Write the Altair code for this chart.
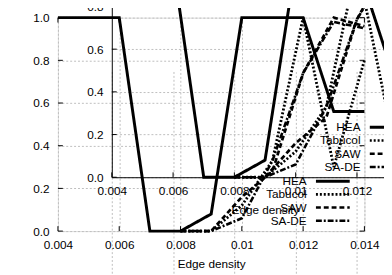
import altair as alt
import pandas as pd

# ---- data ----
density = [0.004, 0.005, 0.006, 0.007, 0.008, 0.009, 0.010, 0.011, 0.012, 0.013, 0.014]
hea     = [1.0, 1.0, 1.0, 0.0, 0.0, 0.08, 1.0, 1.0, 1.0, 0.56, 0.56]
tabucol = [None, None, None, None, 0.0, 0.0, 0.12, 0.33, 1.0, 0.30, 0.80]
saw     = [None, None, None, None, 0.0, 0.0, 0.16, 0.28, 0.74, 1.0, 0.96]
sade    = [None, None, None, None, 0.0, 0.0, 0.06, 0.33, 0.74, 0.98, 0.95]

series_names = ["HEA", "Tabucol", "SAW", "SA-DE"]
x_ticks = [0.004, 0.006, 0.008, 0.010, 0.012, 0.014]
y_ticks = [0.0, 0.2, 0.4, 0.6, 0.8, 1.0]
x_title = "Edge density"

rows = []
for name, vals in zip(series_names, [hea, tabucol, saw, sade]):
    for d, v in zip(density, vals):
        if v is not None:
            rows.append({"density": d, "rate": v, "series": name})
df = pd.DataFrame(rows)
xt_df = pd.DataFrame({"v": x_ticks})
yt_df = pd.DataFrame({"v": y_ticks})

# ---- layout / style ----
W, H = 313, 218
DX, DY = 55, 55          # inset copy shift (pixels)
TK = 5                   # inward tick length
FONT = "Liberation Sans"
dashes = [[1, 0], [2, 2], [5, 3], [6, 2, 2, 2]]
widths = [3.0, 2.6, 2.6, 2.6]
dash_scale = alt.Scale(domain=series_names, range=dashes)
width_scale = alt.Scale(domain=series_names, range=widths)
GRID = "#bdbdbd"
XDOM = [0.004, 0.014]
YDOM = [0, 1]


def x_axis(offset, domain):
    return alt.Axis(values=x_ticks, format="~g", title=x_title, orient="bottom",
                    grid=True, gridColor=GRID, gridDash=[2, 2], gridWidth=1,
                    ticks=False, domain=domain, domainColor="black", domainWidth=1,
                    labelPadding=9, labelFontSize=12, labelFont=FONT, labelColor="black",
                    titleFontSize=12, titleFont=FONT, titleFontWeight="normal",
                    titleColor="black", titleY=33, titleBaseline="middle",
                    offset=offset, labelFlush=False, labelOverlap=False)


def y_axis(offset, domain):
    return alt.Axis(values=y_ticks, format=".1f", title=None, orient="left",
                    grid=True, gridColor=GRID, gridDash=[2, 2], gridWidth=1,
                    ticks=False, domain=domain, domainColor="black", domainWidth=1,
                    labelPadding=9, labelFontSize=12, labelFont=FONT, labelColor="black",
                    offset=offset, labelFlush=False, labelOverlap=False)


def xs(rng=None):
    if rng is None:
        return alt.Scale(domain=XDOM, nice=False, zero=False)
    return alt.Scale(domain=XDOM, nice=False, zero=False, range=rng)


def ys(rng=None):
    if rng is None:
        return alt.Scale(domain=YDOM, nice=False)
    return alt.Scale(domain=YDOM, nice=False, range=rng)


def lines(xscale, yscale, xaxis, yaxis):
    return alt.Chart(df).mark_line(color="black").encode(
        x=alt.X("density:Q", scale=xscale, axis=xaxis),
        y=alt.Y("rate:Q", scale=yscale, axis=yaxis),
        strokeDash=alt.StrokeDash("series:N", scale=dash_scale, legend=None),
        strokeWidth=alt.StrokeWidth("series:N", scale=width_scale, legend=None),
        detail="series:N",
    )


def xticks(scale, y0, y1):
    return alt.Chart(xt_df).mark_rule(color="black", strokeWidth=1).encode(
        x=alt.X("v:Q", scale=scale, axis=None), y=alt.value(y0), y2=alt.value(y1))


def yticks(scale, x0, x1):
    return alt.Chart(yt_df).mark_rule(color="black", strokeWidth=1).encode(
        y=alt.Y("v:Q", scale=scale, axis=None), x=alt.value(x0), x2=alt.value(x1))


main = lines(xs(), ys(), x_axis(0, False), y_axis(0, False))
inset = lines(xs([DX, W + DX]), ys([H - DY, -DY]), x_axis(-DY, True), y_axis(-DX, True))

tick_layers = [
    xticks(xs(), H, H - TK), xticks(xs(), 0, TK),
    yticks(ys(), 0, TK), yticks(ys(), W, W - TK),
    xticks(xs([DX, W + DX]), H - DY, H - DY - TK),
    yticks(ys([H - DY, -DY]), DX, DX + TK),
]

# ---- keys (text right-aligned, sample line to its right) ----
key_layers = []
for sx, sy in [(0, 0), (DX, -DY)]:
    for i, name in enumerate(series_names):
        ky = 167 + 13.5 * i + sy
        key_layers.append(
            alt.Chart(pd.DataFrame({"t": [name]})).mark_text(
                align="right", baseline="middle", font=FONT, fontSize=12, color="black"
            ).encode(text="t:N", x=alt.value(254 + sx), y=alt.value(ky))
        )
        key_layers.append(
            alt.Chart(pd.DataFrame({"t": [name]})).mark_rule(
                color="black", strokeWidth=widths[i], strokeDash=dashes[i]
            ).encode(x=alt.value(263.5 + sx), x2=alt.value(298 + sx), y=alt.value(ky))
        )

chart = alt.layer(main, inset, *tick_layers, *key_layers).resolve_scale(
    x="independent", y="independent"
).properties(
    width=W, height=H,
    autosize=alt.AutoSizeParams(type="none"),
    padding={"left": 51, "top": 7, "right": 20, "bottom": 42},
).configure_view(stroke="black", strokeWidth=1).configure(background="white")

chart.save("out.html", embed_options={"renderer": "svg", "actions": False})
